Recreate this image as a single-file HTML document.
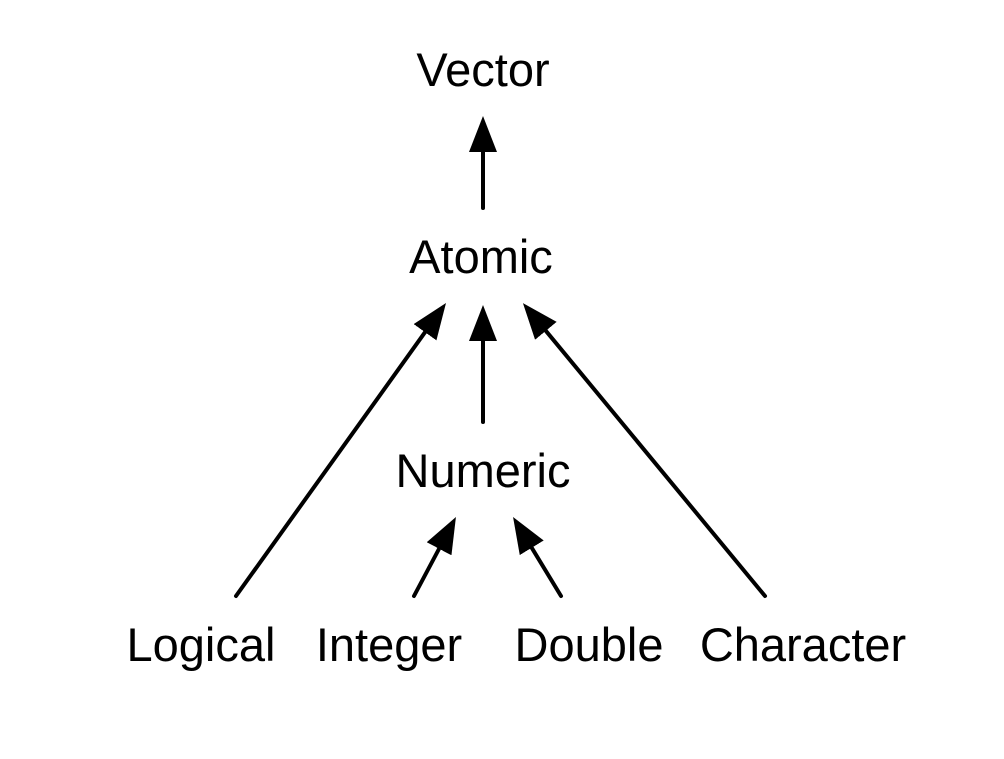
<!DOCTYPE html>
<html><head><style>body{margin:0;background:#fff}</style></head><body>
<svg width="1004" height="754" xmlns="http://www.w3.org/2000/svg">
<defs><marker id="a" markerUnits="userSpaceOnUse" markerWidth="40" markerHeight="30" refX="2" refY="14" orient="auto"><path d="M0,0 L36,14 L0,28 Z" fill="#000"/></marker></defs>
<g stroke="#000" stroke-width="4" stroke-linecap="round" fill="none" marker-end="url(#a)">
<line x1="483" y1="208" x2="483" y2="150"/>
<line x1="483" y1="422" x2="483" y2="339"/>
<line x1="236" y1="596" x2="426.2" y2="330.6"/>
<line x1="765" y1="596" x2="544.6" y2="329.3"/>
<line x1="414" y1="596" x2="440" y2="547"/>
<line x1="561" y1="596" x2="530.7" y2="546.1"/>
</g>
<g font-family="Liberation Sans, Arial, sans-serif" font-size="47" fill="#000" text-anchor="middle">
<text x="483" y="86">Vector</text>
<text x="481" y="273">Atomic</text>
<text x="483" y="487">Numeric</text>
<text x="201" y="661">Logical</text>
<text x="389" y="661">Integer</text>
<text x="589" y="661">Double</text>
<text x="803" y="661">Character</text>
</g>
</svg>
</body></html>
